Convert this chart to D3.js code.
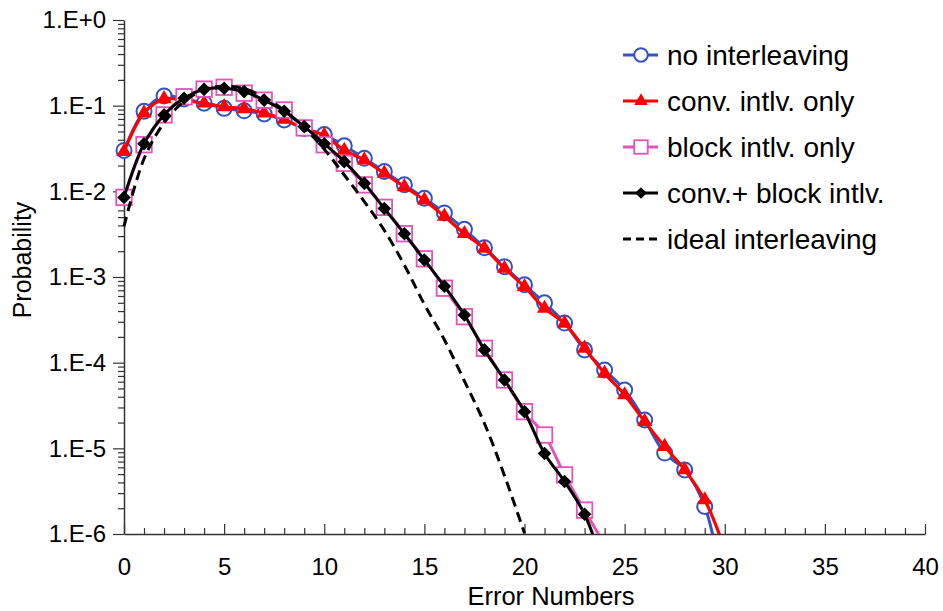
<!DOCTYPE html>
<html>
<head>
<meta charset="utf-8">
<script src="https://cdn.jsdelivr.net/npm/d3@7"></script>
<style>
  body { margin: 0; background: #fff; }
  svg { display: block; font-family: "Liberation Sans", Arial, sans-serif; }
</style>
</head>
<body>
<div id="chart"></div>
<script>
// probability of N errors, index = N (points past 1E-6 only steer the line off the axis)
const noIntlv = [0.030, 0.086, 0.130, 0.120, 0.107, 0.093, 0.087, 0.080, 0.068, 0.054,
  0.046, 0.034, 0.0243, 0.0170, 0.0119, 0.0083, 0.0056, 0.0036, 0.0022, 0.00132,
  0.00081, 0.00050, 0.00029, 0.000141, 0.000082, 0.000048, 0.0000214, 0.0000088, 0.0000056, 0.0000021,
  0.0000002];
const convOnly = [0.029, 0.082, 0.120, 0.115, 0.107, 0.097, 0.092, 0.082, 0.069, 0.054,
  0.045, 0.030, 0.0232, 0.0162, 0.0113, 0.0079, 0.0051, 0.0032, 0.00216, 0.00126,
  0.00077, 0.00043, 0.000288, 0.000147, 0.000075, 0.000042, 0.0000205, 0.0000105, 0.0000056, 0.0000025,
  0.00000067];
const blockOnly = [0.0085, 0.035, 0.078, 0.127, 0.156, 0.164, 0.140, 0.116, 0.089, 0.055,
  0.035, 0.0212, 0.0119, 0.0065, 0.0032, 0.00163, 0.00074, 0.000344, 0.000147, 0.0000628,
  0.0000268, 0.0000143, 0.0000049, 0.0000019, 0.00000075];
const convBlock = [0.0085, 0.036, 0.078, 0.122, 0.155, 0.160, 0.146, 0.116, 0.086, 0.057,
  0.036, 0.0222, 0.0124, 0.0063, 0.0032, 0.00158, 0.00078, 0.00036, 0.000141, 0.0000628,
  0.0000268, 0.0000087, 0.0000041, 0.0000017, 0.00000038];
const ideal = [0.0039, 0.024, 0.063, 0.112, 0.154, 0.170, 0.158, 0.125, 0.088, 0.055,
  0.031, 0.0155, 0.0076, 0.0035, 0.00138, 0.00048, 0.000185, 0.000061, 0.0000195, 0.0000048,
  0.00000102];

const xTicks = [0, 5, 10, 15, 20, 25, 30, 35, 40];
const yTicks = [1e-6, 1e-5, 1e-4, 1e-3, 1e-2, 1e-1, 1];

const width = 943, height = 611;
const x = d3.scaleLinear().domain([0, 40]).range([124, 925]);
const y = d3.scaleLog().domain([1e-6, 1]).range([534, 20]);

const svg = d3.select("#chart").append("svg")
  .attr("width", width)
  .attr("height", height);

svg.append("clipPath").attr("id", "plotclip")
  .append("rect").attr("x", 0).attr("y", 0).attr("width", width).attr("height", 534);

const fmt = d => {
  const e = Math.round(Math.log10(d));
  return "1.E" + (e >= 0 ? "+" : "-") + Math.abs(e);
};

// x axis, ticks pointing up into the plot
const minorX = d3.range(0, 41).filter(d => d % 5 !== 0);
svg.append("g").attr("transform", "translate(0,534)")
  .call(d3.axisBottom(x).tickValues(minorX).tickSize(-6).tickSizeOuter(0).tickFormat(""))
  .call(g => g.select(".domain").remove());
const gx = svg.append("g").attr("transform", "translate(0,534)")
  .call(d3.axisBottom(x).tickValues(xTicks).tickSize(-10).tickSizeOuter(0).tickPadding(24));
gx.selectAll("text").style("font-size", "24px").attr("fill", "#000");

// y axis with minor ticks 2..9 per decade
const minorY = [];
yTicks.slice(0, -1).forEach(d => { for (let k = 2; k < 10; k++) minorY.push(d * k); });
svg.append("g").attr("transform", "translate(124,0)")
  .call(d3.axisLeft(y).tickValues(minorY).tickSize(6).tickSizeOuter(0).tickFormat(""))
  .call(g => g.select(".domain").remove());
const gy = svg.append("g").attr("transform", "translate(124,0)")
  .call(d3.axisLeft(y).tickValues(yTicks).tickSize(11).tickSizeOuter(0).tickPadding(7).tickFormat(fmt));
gy.selectAll("text").style("font-size", "24px").attr("fill", "#000");

svg.selectAll(".domain").attr("stroke", "#333").attr("stroke-width", 1.5);
svg.selectAll(".tick line").attr("stroke", "#333").attr("stroke-width", 1.2);

svg.append("text")
  .attr("x", 551).attr("y", 605)
  .attr("text-anchor", "middle")
  .style("font-size", "25.5px")
  .text("Error Numbers");

svg.append("text")
  .attr("transform", "translate(31,260) rotate(-90)")
  .attr("text-anchor", "middle")
  .style("font-size", "25px")
  .text("Probability");

const series = [
  { name: "no interleaving", values: noIntlv, color: "#3352c6", width: 3, marker: "circle" },
  { name: "conv. intlv. only", values: convOnly, color: "#ff0000", width: 3.2, marker: "triangle" },
  { name: "block intlv. only", values: blockOnly, color: "#e452ba", width: 3, marker: "square" },
  { name: "conv.+ block intlv.", values: convBlock, color: "#000000", width: 3, marker: "diamond" },
  { name: "ideal interleaving", values: ideal, color: "#000000", width: 3, marker: null, dash: "10,6" }
];

const line = d3.line()
  .x((d, i) => x(i))
  .y(d => y(d))
  .curve(d3.curveCatmullRom.alpha(0.5));

function drawMarker(g, type, color, s) {
  if (type === "circle") {
    g.append("circle").attr("r", s.r).attr("fill", "#fff")
      .attr("stroke", color).attr("stroke-width", 2);
  } else if (type === "triangle") {
    g.append("path").attr("d", d3.symbol(d3.symbolTriangle, s.tri)()).attr("fill", color);
  } else if (type === "square") {
    g.append("rect").attr("x", -s.sq / 2).attr("y", -s.sq / 2)
      .attr("width", s.sq).attr("height", s.sq)
      .attr("fill", "#fff").attr("stroke", color).attr("stroke-width", 1.8);
  } else if (type === "diamond") {
    const h = s.dia;
    g.append("path").attr("d", `M0,${-h}L${h},0L0,${h}L${-h},0Z`).attr("fill", color);
  }
}

const plotSize = { r: 7.5, tri: 100, sq: 15.5, dia: 6.8 };
const legendSize = { r: 6.8, tri: 80, sq: 13.5, dia: 5.8 };

series.forEach(s => {
  svg.append("path")
    .datum(s.values)
    .attr("clip-path", "url(#plotclip)")
    .attr("fill", "none")
    .attr("stroke", s.color)
    .attr("stroke-width", s.width)
    .attr("stroke-dasharray", s.dash || null)
    .attr("d", line);

  if (s.marker) {
    s.values.forEach((v, i) => {
      if (v < 1e-6) return;
      const g = svg.append("g").attr("transform", `translate(${x(i)},${y(v)})`);
      drawMarker(g, s.marker, s.color, plotSize);
    });
  }
});

// legend
const legend = svg.append("g");
series.forEach((s, i) => {
  const ly = 55 + i * 46;
  legend.append("line")
    .attr("x1", 623).attr("x2", 658).attr("y1", ly).attr("y2", ly)
    .attr("stroke", s.color).attr("stroke-width", s.width)
    .attr("stroke-dasharray", s.dash ? "8,5" : null);
  if (s.marker) {
    const g = legend.append("g").attr("transform", `translate(641,${ly})`);
    drawMarker(g, s.marker, s.color, legendSize);
  }
  legend.append("text")
    .attr("x", 667).attr("y", ly + 10)
    .style("font-size", "28px")
    .text(s.name);
});
</script>
</body>
</html>
